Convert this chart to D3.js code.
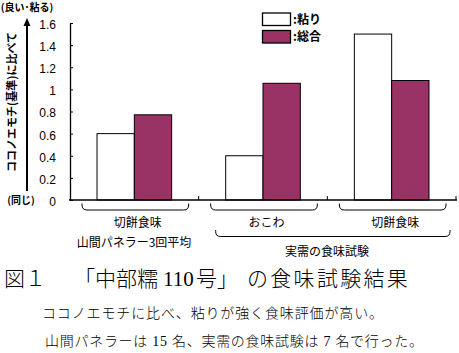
<!DOCTYPE html>
<html><head><meta charset="utf-8">
<script src="https://cdn.jsdelivr.net/npm/d3@7"></script>
<style>body{margin:0;background:#fff}svg{display:block}</style>
</head><body>
<script>
const categories = ["切餅食味", "おこわ", "切餅食味"];
const catIds = ["c1", "c2", "c3"];
const seriesNames = ["粘り", "総合"];
const stickiness = [0.6, 0.4, 1.5];
const overall = [0.77, 1.055, 1.08];
const yTicks = [0, 0.2, 0.4, 0.6, 0.8, 1, 1.2, 1.4, 1.6];
const yTickLabels = ["0", "0.2", "0.4", "0.6", "0.8", "1", "1.2", "1.4", "1.6"];
const colors = ["#ffffff", "#993366"];

const W = 459, H = 353;
const svg = d3.select("body").append("svg").attr("width", W).attr("height", H);
const jp = "'Noto Sans CJK JP', sans-serif";

const y = d3.scaleLinear().domain([0, 1.6]).range([200, 23]);
const x0 = d3.scaleBand().domain(catIds).range([70, 456]).padding(0);
const bw = x0.bandwidth();
const x1 = d3.scaleBand().domain(seriesNames).range([bw * 0.21, bw * 0.79]).padding(0);

const data = catIds.map((id, i) => ({id, vals: [stickiness[i], overall[i]]}));

// bars
const g = svg.append("g");
data.forEach(d => {
  seriesNames.forEach((s, j) => {
    g.append("rect")
      .attr("x", x0(d.id) + x1(s))
      .attr("y", y(d.vals[j]))
      .attr("width", x1.bandwidth())
      .attr("height", y(0) - y(d.vals[j]))
      .attr("fill", colors[j])
      .attr("stroke", "#000").attr("stroke-width", 1);
  });
});

// y axis
const yAxis = d3.axisLeft(y).tickValues(yTicks).tickFormat((d, i) => yTickLabels[i])
  .tickSizeInner(-3).tickSizeOuter(0).tickPadding(14);
const ya = svg.append("g").attr("transform", "translate(70,0)").call(yAxis);
ya.selectAll("text").attr("font-family", "Arial, 'Liberation Sans', sans-serif").attr("font-size", 12).attr("fill", "#000").attr("dy", "0.45em");
ya.selectAll("line").attr("stroke", "#000");
ya.select(".domain").attr("stroke", "#000").attr("stroke-width", 1.3);

// x axis
const xAxisLine = svg.append("g");
xAxisLine.append("line").attr("x1", 69).attr("x2", 457).attr("y1", y(0)).attr("y2", y(0))
  .attr("stroke", "#000").attr("stroke-width", 1.5);
catIds.forEach(id => {
  const xe = x0(id) + bw;
  xAxisLine.append("line").attr("x1", xe).attr("x2", xe).attr("y1", y(0)).attr("y2", y(0) - 4)
    .attr("stroke", "#000");
});

// brackets
function bracket(xa, xb, ya0, ya1) {
  const r = 5;
  return `M${xa},${ya0} L${xa},${ya1 - r} Q${xa},${ya1} ${xa + r},${ya1} L${xb - r},${ya1} Q${xb},${ya1} ${xb},${ya1 - r} L${xb},${ya0}`;
}
catIds.forEach(id => {
  const xa = x0(id) + 12, xb = x0(id) + bw - 10;
  svg.append("path").attr("d", bracket(xa, xb, 203.5, 210)).attr("fill", "none").attr("stroke", "#000");
});
svg.append("path").attr("d", bracket(x0("c2") + 17, x0("c3") + bw - 6, 230, 236.5)).attr("fill", "none").attr("stroke", "#000");

// category labels
catIds.forEach((id, i) => {
  svg.append("text").attr("x", x0(id) + bw / 2 + 3.5).attr("y", 226.5)
    .attr("text-anchor", "middle").attr("font-family", jp).attr("font-size", 12)
    .attr("fill", "#000").text(categories[i]);
});
svg.append("text").attr("x", 134).attr("y", 247).attr("text-anchor", "middle")
  .attr("font-family", jp).attr("font-size", 12).attr("fill", "#000").text("山間パネラー3回平均");
svg.append("text").attr("x", 327).attr("y", 255.5).attr("text-anchor", "middle")
  .attr("font-family", jp).attr("font-size", 12).attr("fill", "#000").text("実需の食味試験");

// legend
seriesNames.forEach((s, j) => {
  const ly = 13 + j * 17.5;
  svg.append("rect").attr("x", 262.5).attr("y", ly).attr("width", 28).attr("height", 12.5)
    .attr("fill", colors[j]).attr("stroke", "#000").attr("stroke-width", 1.3);
  svg.append("text").attr("x", 293).attr("y", ly + 10.5).attr("font-family", jp)
    .attr("font-size", 12).attr("font-weight", "bold").attr("fill", "#000").text(":" + s);
});

// y title + arrow
svg.append("line").attr("x1", 27).attr("x2", 27).attr("y1", 191).attr("y2", 26)
  .attr("stroke", "#000").attr("stroke-width", 2);
svg.append("path").attr("d", "M23.5,26 L27,18 L30.5,26 Z").attr("fill", "#000");
svg.append("text").attr("transform", "translate(16,102) rotate(-90)").attr("text-anchor", "middle")
  .attr("font-family", jp).attr("font-size", 11).attr("font-weight", "bold").attr("fill", "#000")
  .text("ココノエモチ(基準)に比べて");
svg.append("text").attr("x", 27).attr("y", 11).attr("text-anchor", "middle")
  .attr("font-family", jp).attr("font-size", 10).attr("font-weight", "bold").attr("fill", "#000")
  .text("(良い･粘る)");
svg.append("text").attr("x", 21).attr("y", 204).attr("text-anchor", "middle")
  .attr("font-family", jp).attr("font-size", 10).attr("font-weight", "bold").attr("fill", "#000")
  .text("(同じ)");

// caption
const serif = "'Liberation Serif', 'Noto Sans CJK JP', serif";
const cap = svg.append("text").attr("y", 286).attr("font-family", serif).attr("font-size", 21)
  .attr("font-weight", 300).attr("fill", "#000");
cap.append("tspan").attr("x", 4).text("図１");
cap.append("tspan").attr("x", 74).text("「中部糯");
cap.append("tspan").attr("x", 163).text("110");
cap.append("tspan").attr("x", 196).text("号」");
cap.append("tspan").attr("x", 247).attr("letter-spacing", 2.3).text("の食味試験結果");

const sub = svg.append("g").attr("font-family", serif).attr("font-size", 14).attr("font-weight", 300).attr("fill", "#000");
sub.append("text").attr("x", 42).attr("y", 318).attr("textLength", 341).text("ココノエモチに比べ、粘りが強く食味評価が高い。");
sub.append("text").attr("x", 45).attr("y", 346).attr("textLength", 378).text("山間パネラーは 15 名、実需の食味試験は 7 名で行った。");
</script>
</body></html>
